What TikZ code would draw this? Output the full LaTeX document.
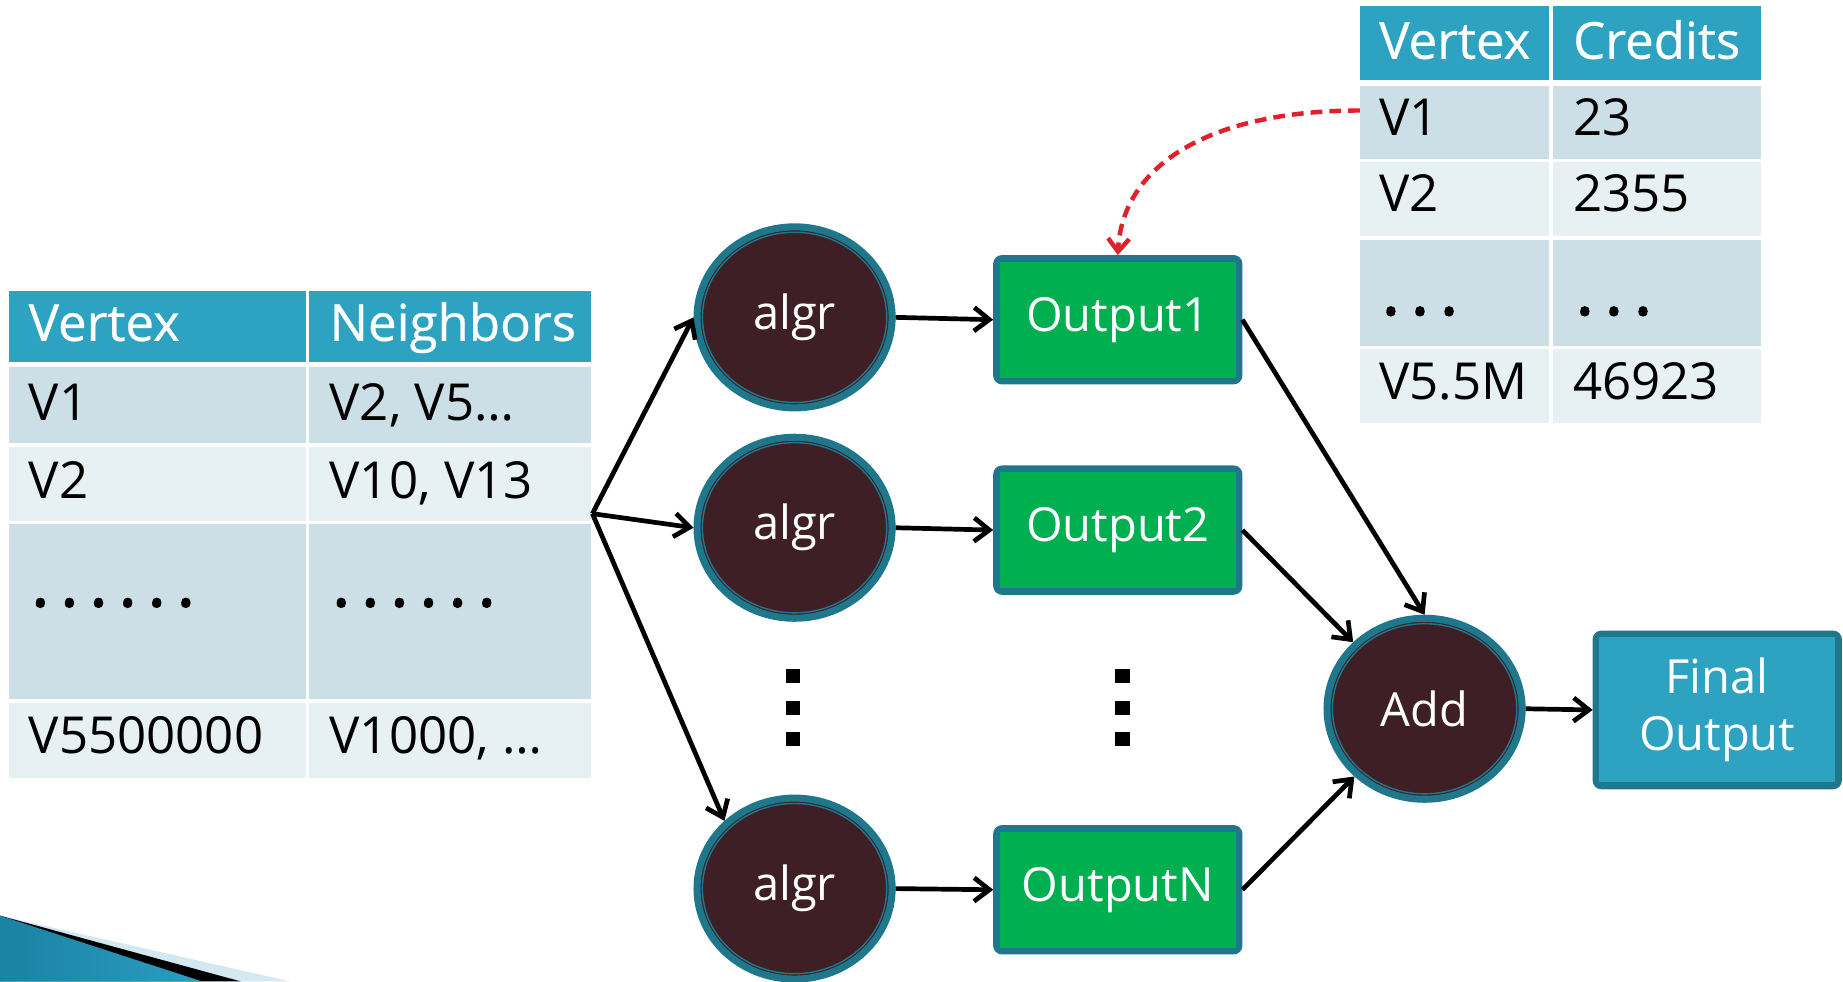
\documentclass[tikz,border=0pt]{standalone}
\usepackage{fontspec}
\setmainfont{Open Sans}
\newfontfamily\headfont[FakeBold=0.5]{Open Sans}
\newfontfamily\dotfont[FakeBold=1.5]{Open Sans}
\usetikzlibrary{arrows.meta,shapes.geometric}

\definecolor{hdrblue}{HTML}{2EA3C1}
\definecolor{rowdark}{HTML}{CDDFE6}
\definecolor{rowlight}{HTML}{E7F0F3}
\definecolor{ringteal}{HTML}{1F778C}
\definecolor{procmaroon}{HTML}{3E1F26}
\definecolor{boxgreen}{HTML}{00AF50}
\definecolor{dashred}{HTML}{E0202A}
\definecolor{swooshlight}{HTML}{D3E8F0}
\definecolor{swooshA}{HTML}{1A82A3}
\definecolor{swooshB}{HTML}{2B9DC2}

% spaced row of square dots, as set in the table cells
\newcommand{\celldots}[1]{{\dotfont\fontsize{30pt}{30pt}\selectfont
  \foreach \k in {1,...,#1}{.\ifnum\k<#1\kern4.4pt\fi}}}

\tikzset{
  tabtext/.style={anchor=base west, inner sep=0pt, text=black,
    font=\fontsize{21.7pt}{26pt}\selectfont},
  tabhead/.style={tabtext, text=white, font=\fontsize{21.7pt}{26pt}\selectfont\headfont},
  procnode/.style={ellipse, draw=ringteal, line width=3pt, fill=procmaroon,
    minimum width=83pt, minimum height=77pt, inner sep=0pt, text=white,
    font=\fontsize{20pt}{24pt}\selectfont},
  outbox/.style={rectangle, rounded corners=2.5pt, draw=ringteal, line width=2.5pt,
    fill=boxgreen, minimum width=103.5pt, minimum height=52.5pt, inner sep=0pt,
    text=white, font=\fontsize{20pt}{24pt}\selectfont},
  finbox/.style={outbox, fill=hdrblue, minimum height=65pt, align=center},
  innerring/.style={draw=ringteal, line width=0.6pt},
  conn/.style={line width=2pt, -{Straight Barb[length=6.5pt,width=10pt]}},
  creditlink/.style={dashred, line width=1.9pt, dash pattern=on 5pt off 3pt,
    -{Straight Barb[length=5.5pt,width=9pt]}},
}

\begin{document}
\begin{tikzpicture}[x=0.5pt,y=-0.5pt]
\useasboundingbox (0,0) rectangle (1568,835);

% ---------- adjacency table ----------
\fill[hdrblue]   (8,248) rectangle (260,308);  \fill[hdrblue]   (263,248) rectangle (503,308);
\fill[rowdark]   (8,312) rectangle (260,377);  \fill[rowdark]   (263,312) rectangle (503,377);
\fill[rowlight]  (8,380) rectangle (260,443);  \fill[rowlight]  (263,380) rectangle (503,443);
\fill[rowdark]   (8,446) rectangle (260,595);  \fill[rowdark]   (263,446) rectangle (503,595);
\fill[rowlight]  (8,598) rectangle (260,662);  \fill[rowlight]  (263,598) rectangle (503,662);

\node[tabhead] (lh1) at (24,290)  {Vertex};
\node[tabhead] (lh2) at (280,290) {Neighbors};
\node[tabtext] (l11) at (24,358)  {V1};
\node[tabtext] (l12) at (280,358) {V2, V5…};
\node[tabtext] (l21) at (24,424)  {V2};
\node[tabtext] (l22) at (280,424) {V10, V13};
\node[tabtext] (l31) at (26,516)  {\celldots{6}};
\node[tabtext] (l32) at (282,516) {\celldots{6}};
\node[tabtext] (l41) at (24,641)  {V5500000};
\node[tabtext] (l42) at (280,641) {V1000, …};

% ---------- credits table ----------
\fill[hdrblue]   (1157,5)   rectangle (1318,68);   \fill[hdrblue]   (1321,5)   rectangle (1498,68);
\fill[rowdark]   (1157,73)  rectangle (1318,135);  \fill[rowdark]   (1321,73)  rectangle (1498,135);
\fill[rowlight]  (1157,138) rectangle (1318,201);  \fill[rowlight]  (1321,138) rectangle (1498,201);
\fill[rowdark]   (1157,204) rectangle (1318,294);  \fill[rowdark]   (1321,204) rectangle (1498,294);
\fill[rowlight]  (1157,297) rectangle (1318,360);  \fill[rowlight]  (1321,297) rectangle (1498,360);

\node[tabhead] (rh1) at (1173,50)  {Vertex};
\node[tabhead] (rh2) at (1338,50)  {Credits};
\node[tabtext] (r11) at (1173,115) {V1};
\node[tabtext] (r12) at (1338,115) {23};
\node[tabtext] (r21) at (1173,180) {V2};
\node[tabtext] (r22) at (1338,180) {2355};
\node[tabtext] (r31) at (1175,268) {\celldots{3}};
\node[tabtext] (r32) at (1340,268) {\celldots{3}};
\node[tabtext] (r41) at (1173,340) {V5.5M};
\node[tabtext] (r42) at (1338,340) {46923};
\coordinate (credv1) at (1157,94);

% ---------- processing nodes ----------
\node[procnode] (a1)  at (676,270)  {algr};
\node[procnode] (a2)  at (676,449)  {algr};
\node[procnode] (aN)  at (676,756)  {algr};
\node[procnode] (add) at (1212,603) {Add};
\foreach \n in {a1,a2,aN,add}
  \draw[innerring] (\n.center) ellipse [x radius=39.2pt, y radius=36.2pt];

\node[outbox] (o1) at (951,272) {Output1};
\node[outbox] (o2) at (951,451) {Output2};
\node[outbox] (oN) at (951,757) {OutputN};
\node[finbox] (fin) at (1461,604) {Final\\Output};
\foreach \n in {o1,o2,oN,fin}
  \draw[innerring] ([shift={(2.6pt,-2.6pt)}]\n.north west) rectangle ([shift={(-2.6pt,2.6pt)}]\n.south east);

% vertical ellipsis marks
\foreach \yy in {569,596,623} {
  \fill (669,\yy) rectangle (681,\yy+12);
  \fill (949,\yy) rectangle (961,\yy+12);
}

% ---------- connectors ----------
\coordinate (fan) at (504,437);
\draw[conn] (fan) -- (a1.west);
\draw[conn] (fan) -- (a2.west);
\draw[conn] (fan) -- (aN.136);
\draw[conn] (a1.east) -- (o1.west);
\draw[conn] (a2.east) -- (o2.west);
\draw[conn] (aN.east) -- (oN.west);
\draw[conn] (o1.east) -- (add.north);
\draw[conn] (o2.east) -- (add.137);
\draw[conn] (oN.east) -- (add.224);
\draw[conn] (add.east) -- (fin.west);
\draw[creditlink] (credv1) .. controls (1030,94) and (955,140) .. (o1.north);

% ---------- corner swoosh ----------
\fill[swooshlight] (0,779) -- (247,835) -- (0,835) -- cycle;
\fill[black] (0,779) -- (205,835) -- (0,835) -- cycle;
\shade[left color=swooshA, right color=swooshB] (0,779) -- (172,835) -- (0,835) -- cycle;
\end{tikzpicture}
\end{document}
